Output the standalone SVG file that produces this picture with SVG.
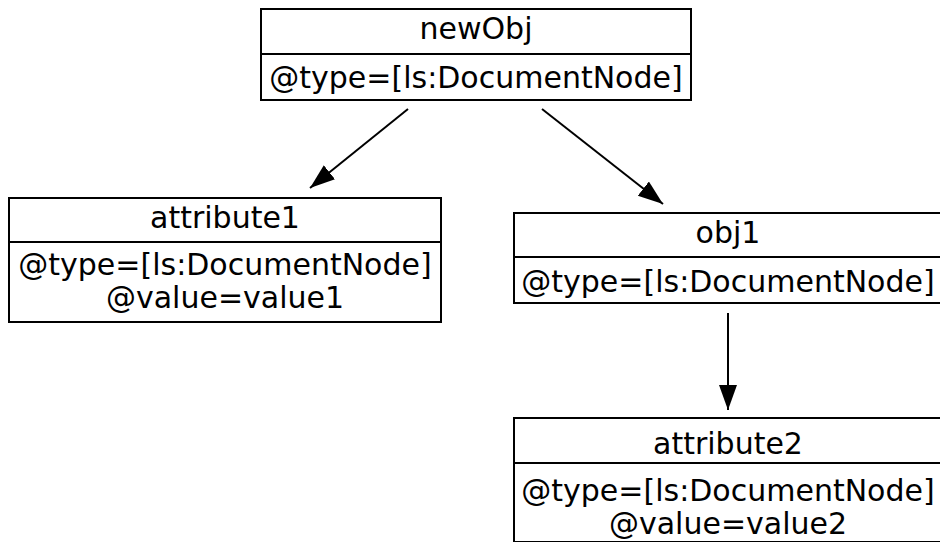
<svg xmlns="http://www.w3.org/2000/svg" width="940" height="542" viewBox="0 0 940 542">
  <style>
    .box { fill: #ffffff; stroke: #000000; stroke-width: 2; }
    .sep { stroke: #000000; stroke-width: 2; }
    .lbl { font-family: "DejaVu Sans", sans-serif; font-size: 30px; fill: #000000; text-anchor: middle; }
    .edge { stroke: #000000; stroke-width: 2; fill: none; marker-end: url(#arrow); }
  </style>
  <defs>
    <marker id="arrow" markerUnits="userSpaceOnUse" markerWidth="26" markerHeight="20" refX="25" refY="9" orient="auto">
      <path d="M0,0 L25,9 L0,18 Z" fill="#000000"/>
    </marker>
  </defs>
  <rect width="940" height="542" fill="#ffffff"/>

  <!-- connectors -->
  <g id="edges">
    <line class="edge" x1="408" y1="109" x2="310" y2="188"/>
    <line class="edge" x1="542" y1="109" x2="663" y2="204"/>
    <line class="edge" x1="728" y1="313" x2="728" y2="410"/>
  </g>

  <!-- record nodes -->
  <g id="newObj">
    <rect class="box" x="261" y="9" width="430" height="91"/>
    <line class="sep" x1="261" y1="54" x2="691" y2="54"/>
    <text class="lbl" x="476" y="39">newObj</text>
    <text class="lbl" x="476" y="88">@type=[ls:DocumentNode]</text>
  </g>

  <g id="attribute1">
    <rect class="box" x="9" y="198" width="432" height="124"/>
    <line class="sep" x1="9" y1="242" x2="441" y2="242"/>
    <text class="lbl" x="225" y="228">attribute1</text>
    <text class="lbl" x="225" y="275">@type=[ls:DocumentNode]</text>
    <text class="lbl" x="225" y="308">@value=value1</text>
  </g>

  <g id="obj1">
    <rect class="box" x="514" y="213" width="428" height="90"/>
    <line class="sep" x1="514" y1="257" x2="942" y2="257"/>
    <text class="lbl" x="728" y="243">obj1</text>
    <text class="lbl" x="728" y="292">@type=[ls:DocumentNode]</text>
  </g>

  <g id="attribute2">
    <rect class="box" x="514" y="418" width="428" height="124"/>
    <line class="sep" x1="514" y1="463" x2="942" y2="463"/>
    <text class="lbl" x="728" y="454">attribute2</text>
    <text class="lbl" x="728" y="501">@type=[ls:DocumentNode]</text>
    <text class="lbl" x="728" y="534">@value=value2</text>
  </g>
</svg>
